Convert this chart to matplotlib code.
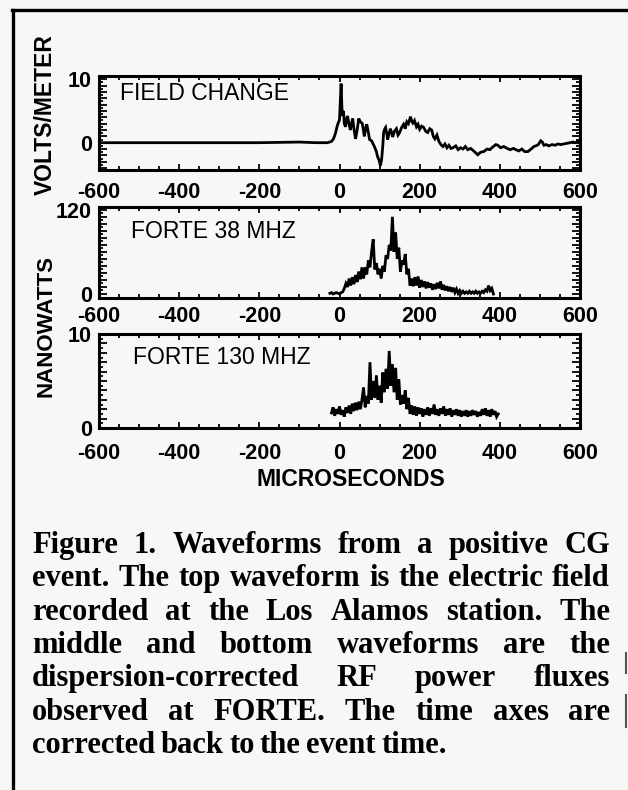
"""Three stacked waveform panels (field change + FORTE RF) with a justified caption."""
import matplotlib
matplotlib.use("Agg")
import matplotlib.pyplot as plt
import numpy as np
from matplotlib.lines import Line2D
from matplotlib.ticker import MultipleLocator, FuncFormatter

W, H = 628, 790

# field change (volts/meter) vs microseconds
fc_time = [-600, -400, -200, -100, -60, -30, -20, -15, -10, -5,
           0, 2, 4, 6, 8, 10, 12, 15, 18, 20,
           23, 27, 30, 33, 36, 40, 44, 48, 52, 57,
           60, 62, 65, 68, 72, 75, 80, 87, 92, 95,
           99, 102, 105, 108, 110, 113, 115, 118, 120, 124,
           127, 130, 133, 137, 142, 146, 150, 155, 160, 164,
           168, 172, 177, 180, 183, 187, 192, 196, 200, 205,
           210, 215, 220, 225, 230, 234, 238, 243, 248, 253,
           258, 263, 268, 273, 278, 283, 290, 296, 302, 308,
           314, 320, 327, 333, 340, 345, 352, 360, 368, 375,
           382, 390, 395, 402, 410, 418, 426, 434, 440, 447,
           455, 462, 470, 478, 485, 490, 496, 502, 506, 510,
           516, 522, 530, 538, 545, 552, 560, 568, 575, 582,
           590, 596, 600]
fc_volts = [0.0, 0.0, 0.0, 0.1, 0.0, 0.0, 0.2, 0.6, 1.5, 2.8,
            3.6, 6.5, 9.3, 5.5, 4.2, 5.0, 3.0, 2.5, 3.8, 4.2,
            3.2, 2.0, 3.0, 3.8, 2.2, 0.6, 2.0, 3.8, 3.3, 3.0,
            1.8, 1.0, 2.2, 2.9, 1.6, 0.5, 0.3, -0.6, -1.4, -2.2,
            -2.8, -3.6, -2.7, -0.5, 1.6, 2.2, 2.4, 1.4, 0.5, 1.5,
            2.2, 1.6, 0.9, 1.8, 2.2, 1.2, 1.6, 2.4, 2.9, 2.2,
            3.3, 3.0, 4.1, 3.4, 3.1, 3.5, 2.5, 2.9, 2.1, 2.6,
            2.4, 1.8, 1.6, 2.2, 2.0, 1.0, 0.6, 1.2, 0.2, -0.3,
            -0.6, -0.2, -0.8, -0.4, -0.9, -0.8, -0.5, -1.1, -0.8, -1.0,
            -0.6, -1.1, -0.9, -1.2, -1.6, -1.9, -1.5, -1.4, -1.0, -1.1,
            -0.7, -0.3, -0.4, -0.8, -0.6, -0.9, -1.1, -0.9, -1.1, -1.3,
            -1.0, -1.4, -1.4, -1.0, -0.6, -0.5, -0.3, 0.3, 0.1, -0.4,
            -0.3, -0.5, -0.3, -0.4, -0.2, -0.3, -0.2, -0.1, 0.0, 0.1,
            0.0, 0.3, -0.2]

# FORTE 38 MHz power (nanowatts), sampled every 4 us from -24 us
rf38_t0, rf38_dt = -24, 4
rf38_nw = [1, 2, 0, 1, 2, 1, 0, 2, 3, 8,
           15, 10, 22, 12, 24, 14, 27, 17, 32, 21,
           38, 22, 38, 28, 48, 38, 60, 78, 35, 44,
           28, 36, 22, 40, 32, 55, 50, 70, 62, 110,
           60, 88, 50, 66, 32, 48, 42, 57, 28, 36,
           12, 22, 11, 24, 12, 25, 9, 20, 10, 18,
           8, 17, 9, 15, 6, 14, 7, 16, 8, 18,
           6, 13, 5, 11, 4, 10, 3, 9, 2, 7,
           1, 5, 1, 4, 1, 3, 1, 4, 1, 3,
           1, 4, 1, 3, 1, 4, 2, 6, 4, 12,
           5, 8, 0]

# FORTE 130 MHz power (nanowatts), sampled every 4 us from -20 us
rf130_t0, rf130_dt = -20, 4
rf130_nw = [1.6, 2.2, 1.3, 2.0, 1.5, 2.3, 1.4, 1.9, 1.2, 2.2,
            1.6, 2.4, 1.5, 2.6, 1.8, 2.7, 1.9, 2.8, 2.0, 3.0,
            4.3, 2.2, 3.4, 2.6, 7.0, 3.0, 5.0, 3.2, 5.6, 3.0,
            4.5, 2.7, 5.9, 3.8, 6.3, 4.2, 8.2, 4.5, 6.8, 3.8,
            6.4, 3.0, 5.2, 2.5, 3.5, 2.6, 4.0, 2.0, 3.2, 1.5,
            2.4, 1.4, 2.3, 1.3, 2.2, 1.5, 2.1, 1.2, 2.0, 1.4,
            2.2, 1.3, 2.1, 1.5, 2.5, 1.4, 2.0, 1.3, 2.1, 1.5,
            2.3, 1.3, 2.0, 1.4, 2.1, 1.2, 1.9, 1.4, 2.0, 1.3,
            1.9, 1.2, 1.8, 1.3, 1.9, 1.2, 1.8, 1.3, 1.9, 1.4,
            1.8, 1.2, 1.7, 1.3, 2.0, 1.4, 2.1, 1.3, 1.9, 1.2,
            2.0, 1.4, 1.8, 1.2, 1.5]

panel_names = ["FIELD CHANGE", "FORTE 38 MHZ", "FORTE 130 MHZ"]
x_ticks = [-600, -400, -200, 0, 200, 400, 600]
caption_lines = [
    "Figure 1. Waveforms from a positive CG",
    "event. The top waveform is the electric field",
    "recorded at the Los Alamos station. The",
    "middle and bottom waveforms are the",
    "dispersion-corrected RF power fluxes",
    "observed at FORTE. The time axes are",
    "corrected back to the event time.",
]

BG = "#f7f7f7"
plt.rcParams["font.family"] = ["Liberation Sans", "DejaVu Sans"]
plt.rcParams["axes.unicode_minus"] = False
fig = plt.figure(figsize=(W / 100, H / 100), dpi=100, facecolor=BG)


def rect(left, top, right, bottom):
    return [left / W, 1 - bottom / H, (right - left) / W, (bottom - top) / H]


def fy(py):
    return 1 - py / H


rf38_time = rf38_t0 + rf38_dt * np.arange(len(rf38_nw))
rf130_time = rf130_t0 + rf130_dt * np.arange(len(rf130_nw))

panels = [
    # box px, ylim, major, minor, labelled y values, x label pad, name pos
    dict(box=(99, 76, 580, 170), ylim=(-4.3, 10.5), major=1, minor=0.5,
         ylab=[0, 10], pad=9, name=(120, 94), t=fc_time, v=fc_volts, lw=2.0),
    dict(box=(99, 207, 580, 298), ylim=(-5.7, 124), major=10, minor=5,
         ylab=[0, 120], pad=6, name=(131, 232), t=rf38_time, v=rf38_nw, lw=2.0),
    dict(box=(99, 334, 580, 428), ylim=(0, 10), major=1, minor=0.5,
         ylab=[0, 10], pad=11, name=(133, 357), t=rf130_time, v=rf130_nw, lw=2.0),
]

for p, name in zip(panels, panel_names):
    ax = fig.add_axes(rect(*p["box"]))
    ax.set_facecolor(BG)
    ax.plot(p["t"], p["v"], color="black", linewidth=p["lw"], solid_joinstyle="miter")
    ax.set_xlim(-600, 600)
    ax.set_ylim(*p["ylim"])
    for s in ax.spines.values():
        s.set_linewidth(2.2)

    ax.xaxis.set_major_locator(plt.FixedLocator(x_ticks))
    ax.xaxis.set_minor_locator(MultipleLocator(50))
    ax.yaxis.set_major_locator(MultipleLocator(p["major"]))
    ax.yaxis.set_minor_locator(MultipleLocator(p["minor"]))
    shown = p["ylab"]
    ax.yaxis.set_major_formatter(FuncFormatter(
        lambda val, pos, shown=shown: "%d" % round(val)
        if any(abs(val - s) < 1e-6 for s in shown) else ""))

    ax.tick_params(axis="both", which="both", direction="in",
                   top=True, right=True, width=1.3, color="black")
    ax.tick_params(axis="y", which="major", length=6, pad=5)
    ax.tick_params(axis="y", which="minor", length=3)
    ax.tick_params(axis="x", which="major", length=4, pad=p["pad"])
    ax.tick_params(axis="x", which="minor", length=3)
    for lab in ax.get_xticklabels() + ax.get_yticklabels():
        lab.set_fontsize(15.5)
        lab.set_fontweight("bold")

    fig.text(p["name"][0] / W, fy(p["name"][1]), name, fontsize=16.5,
             ha="left", va="center")

fig.text(45 / W, fy(115), "VOLTS/METER", rotation=90, fontsize=16.5,
         fontweight="bold", ha="center", va="center")
fig.text(46 / W, fy(326), "NANOWATTS", rotation=90, fontsize=16,
         fontweight="bold", ha="center", va="center")
fig.text(351 / W, fy(480), "MICROSECONDS", fontsize=16.5,
         fontweight="bold", ha="center", va="center")

# outer frame of the scanned figure
fig.add_artist(Line2D([12 / W, 1], [fy(10), fy(10)], color="black", lw=2.4))
fig.add_artist(Line2D([13 / W, 13 / W], [0, fy(10)], color="black", lw=2.4))
fig.add_artist(Line2D([626 / W, 626 / W], [fy(653), fy(673)], color="#555555", lw=1.5))
fig.add_artist(Line2D([626 / W, 626 / W], [fy(695), fy(727)], color="#555555", lw=1.5))

# justified caption
renderer = fig.canvas.get_renderer()
cap_left, cap_right = 32, 610
for i, line in enumerate(caption_lines):
    base = 553 + i * 33.3
    words = line.split()
    texts = [fig.text(0, fy(base), w, fontsize=22, fontweight="bold",
                      family=["Liberation Serif", "DejaVu Serif"],
                      ha="left", va="baseline") for w in words]
    widths = [t.get_window_extent(renderer).width for t in texts]
    if i < len(caption_lines) - 1:
        gap = (cap_right - cap_left - sum(widths)) / (len(words) - 1)
    else:
        gap = 5.5
    x = cap_left
    for t, w in zip(texts, widths):
        t.set_x(x / W)
        x += w + gap

fig.savefig("out.png", dpi=100, facecolor=BG)
